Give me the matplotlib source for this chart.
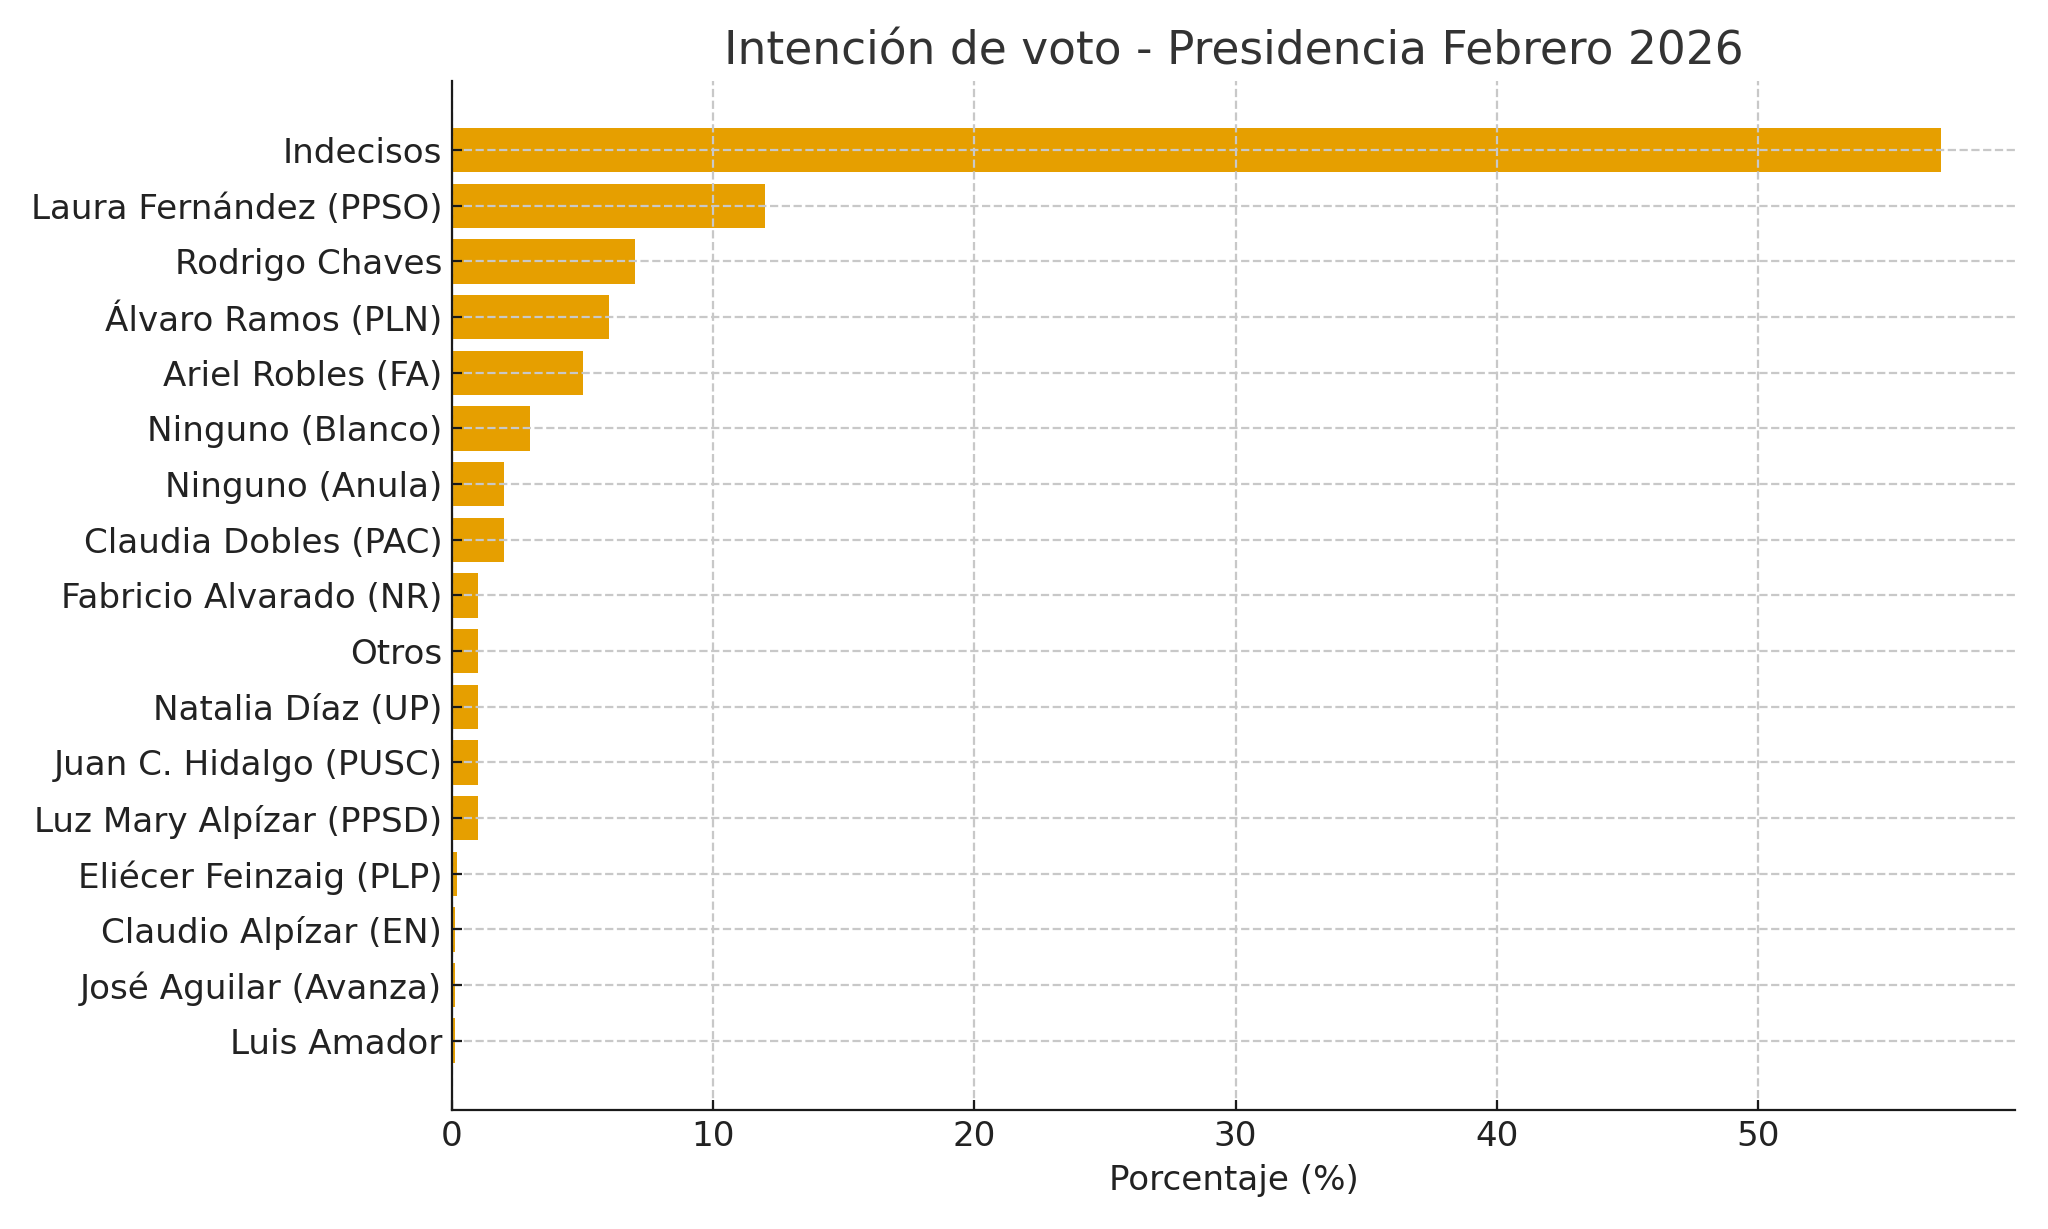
import matplotlib
matplotlib.use("Agg")
import matplotlib.pyplot as plt

categories = [
    "Indecisos",
    "Laura Fernández (PPSO)",
    "Rodrigo Chaves",
    "Álvaro Ramos (PLN)",
    "Ariel Robles (FA)",
    "Ninguno (Blanco)",
    "Ninguno (Anula)",
    "Claudia Dobles (PAC)",
    "Fabricio Alvarado (NR)",
    "Otros",
    "Natalia Díaz (UP)",
    "Juan C. Hidalgo (PUSC)",
    "Luz Mary Alpízar (PPSD)",
    "Eliécer Feinzaig (PLP)",
    "Claudio Alpízar (EN)",
    "José Aguilar (Avanza)",
    "Luis Amador",
]
values = [57, 12, 7, 6, 5, 3, 2, 2, 1, 1, 1, 1, 1, 0.2, 0.1, 0.1, 0.1]
xticks = [0, 10, 20, 30, 40, 50]

plt.rcParams['font.family'] = ['DejaVu Sans']

fig = plt.figure(figsize=(2048 / 200, 1229 / 200), dpi=200)
ax = fig.add_axes([0.2207, 0.097, 0.984 - 0.2207, 0.934 - 0.097])

ax.barh(categories, values, color="#E69F00", height=0.8)
ax.invert_yaxis()

ax.set_xticks(xticks)
ax.grid(True, linestyle="--", color="#c8c8c8", linewidth=0.8)
ax.spines["top"].set_visible(False)
ax.spines["right"].set_visible(False)
ax.spines["left"].set_color("#1a1a1a")
ax.spines["bottom"].set_color("#1a1a1a")
ax.tick_params(axis="both", direction="in", labelsize=12.3, colors="#1a1a1a",
               labelcolor="#222222")

ax.set_xlabel("Porcentaje (%)", fontsize=12.3, color="#222222")
ax.set_title("Intención de voto - Presidencia Febrero 2026", fontsize=16.4,
             color="#333333", pad=6)

fig.savefig("out.png", dpi=200)
